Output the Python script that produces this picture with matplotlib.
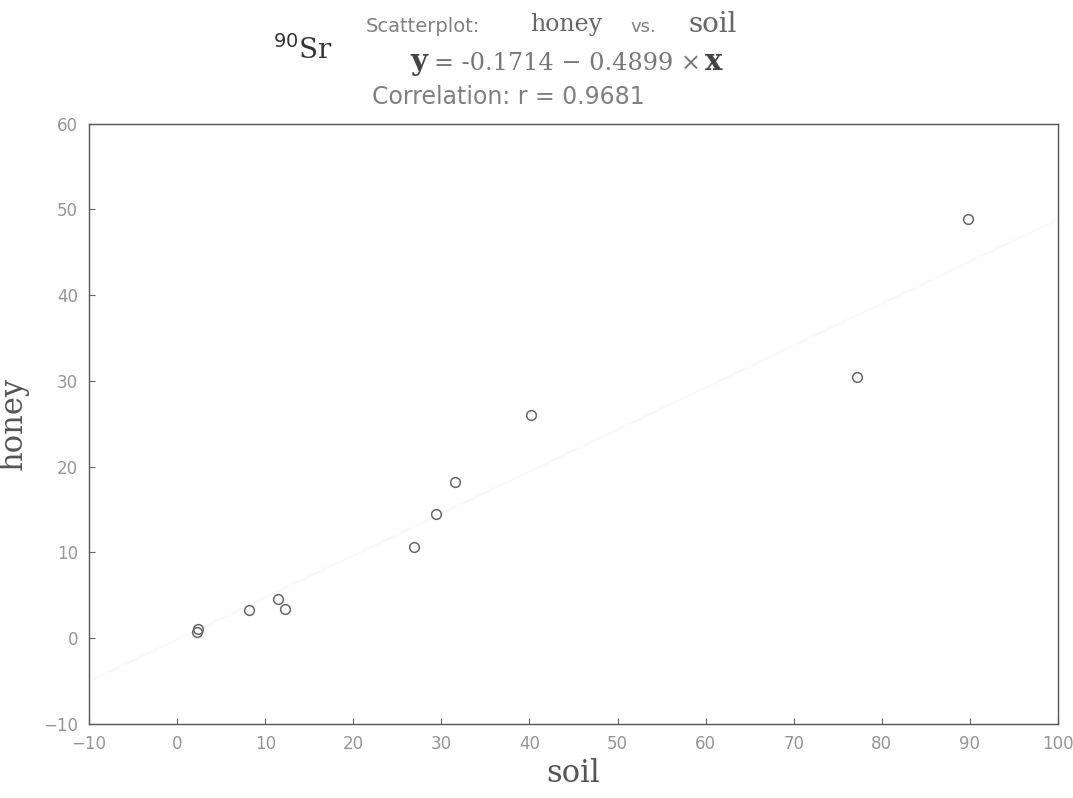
import matplotlib.pyplot as plt
import numpy as np

# данные
soil = [2.3, 2.4, 8.2, 11.5, 12.2, 26.9, 29.4, 31.5, 40.2, 77.2, 89.8]
honey = [0.7, 1.05, 3.3, 4.55, 3.4, 10.6, 14.5, 18.2, 26.0, 30.5, 48.9]
intercept = -0.1714
slope = 0.4899
r_value = 0.9681

x_ticks = list(range(-10, 101, 10))
y_ticks = list(range(-10, 61, 10))

fig = plt.figure(figsize=(10.73, 7.98), dpi=100)
ax = fig.add_axes([0.083, 0.093, 0.903, 0.752])

# линия регрессии почти не видна на оригинале
xl = np.array([-10, 100])
ax.plot(xl, intercept + slope * xl, color='#f9f9f9', lw=1.5, zorder=1)

ax.plot(soil, honey, 'o', ms=7, mfc='none', mec='#666666', mew=1.1, zorder=3)

ax.set_xlim(-10, 100)
ax.set_ylim(-10, 60)
ax.set_xticks(x_ticks)
ax.set_yticks(y_ticks)
ax.tick_params(direction='in', length=4, color='#666666', labelcolor='#959595',
               labelsize=12, pad=8)
for s in ax.spines.values():
    s.set_color('#555555')
    s.set_linewidth(1.0)

ax.set_xlabel('soil', family='serif', fontsize=22, color='#555555', labelpad=4)
ax.set_ylabel('honey', family='serif', fontsize=22, color='#555555', labelpad=10)

W, H = 1073, 798
def ft(x, y, s, **kw):
    fig.text(x / W, 1 - y / H, s, va='center', ha='left', **kw)

sans = dict(family='DejaVu Sans', color='#808080')
serif = dict(family='DejaVu Serif', color='#666666')

ft(366, 27, 'Scatterplot:', fontsize=14, **sans)
ft(530, 25, 'honey', fontsize=17, **serif)
ft(630, 27, 'vs.', fontsize=13, **sans)
ft(688, 25, 'soil', fontsize=20, **serif)

ft(410, 62, 'y', family='DejaVu Serif', fontweight='bold', color='#444444', fontsize=21)
ft(434, 64, '= %.4f \u2212 %.4f \u00d7' % (intercept, slope), family='DejaVu Serif',
   color='#777777', fontsize=17.3)
ft(705, 62, 'x', family='DejaVu Serif', fontweight='bold', color='#444444', fontsize=21)

ft(372, 97, 'Correlation: r = %.4f' % r_value, fontsize=17, **sans)

ft(273, 50, r'$^{90}$Sr', family='DejaVu Serif', color='#333333', fontsize=20)

fig.savefig('out.png', dpi=100)
